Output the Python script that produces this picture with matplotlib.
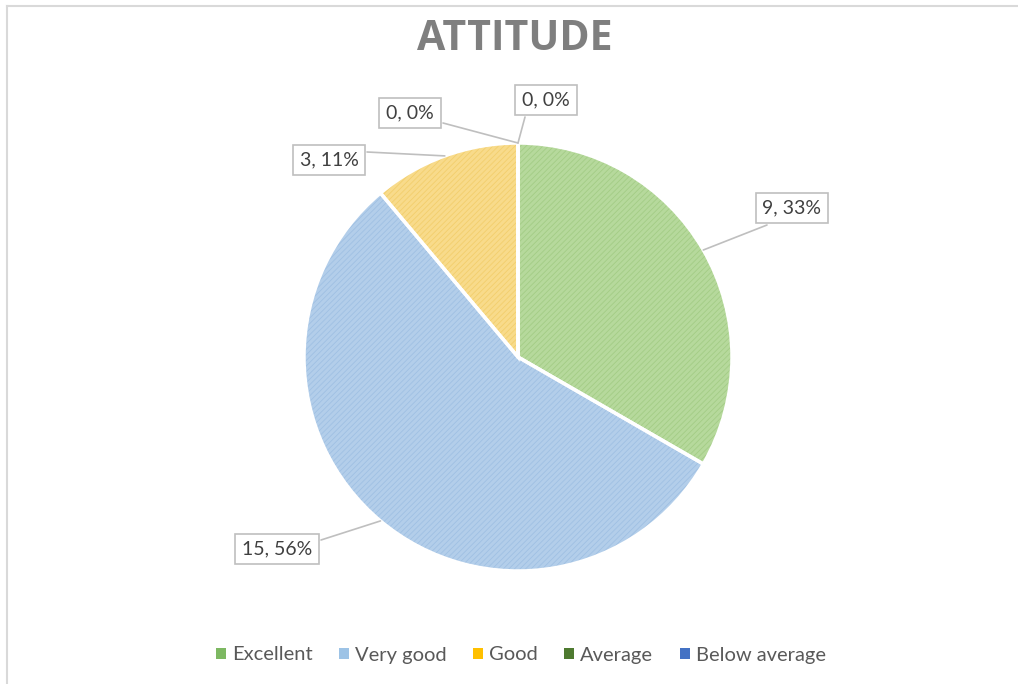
import matplotlib
matplotlib.use('Agg')
import matplotlib.pyplot as plt
import numpy as np
from matplotlib.patches import Patch
from matplotlib.lines import Line2D

# Data
categories = ['Excellent', 'Very good', 'Good', 'Average', 'Below average']
counts = [9, 15, 3, 0, 0]
fill_colors = ['#B6D99C', '#B3CEEA', '#F8DB8B', '#6E9A4E', '#5F86C4']
hatch_colors = ['#A3CC85', '#9FC0E3', '#F2CE6C', '#5A8A3C', '#4A74B6']
legend_colors = ['#7DB862', '#9DC3E6', '#FFC000', '#4E7A30', '#4472C4']

# label box positions (figure pixels, from top-left) and leader start on box
box_pos = [(792, 208), (277, 549), (329, 160), (410, 113), (546, 100)]
box_anchor = [(767, 225), (321, 540), (367, 152), (443, 123), (525, 117)]

W, H = 1018, 684
plt.rcParams['font.family'] = ['Lato', 'DejaVu Sans']
plt.rcParams['hatch.linewidth'] = 0.6

fig = plt.figure(figsize=(W / 100, H / 100), dpi=100)

# frame lines (left and top)
fig.add_artist(Line2D([7 / W, 7 / W], [0, 1 - 6 / H], transform=fig.transFigure,
                      color='#D9D9D9', lw=1.5))
fig.add_artist(Line2D([7 / W, 1], [1 - 6 / H, 1 - 6 / H], transform=fig.transFigure,
                      color='#D9D9D9', lw=1.5))

cx, cy, r = 518, 357, 214
ax = fig.add_axes([(cx - r) / W, (H - cy - r) / H, 2 * r / W, 2 * r / H])

wedges, _ = ax.pie(counts, colors=fill_colors, startangle=90, counterclock=False,
                   radius=1, wedgeprops=dict(linewidth=0))
for w, hc in zip(wedges, hatch_colors):
    w.set_hatch('//////')
    w.set_edgecolor(hc)
    w.set_linewidth(0)

# white separators
outline, _ = ax.pie(counts, colors=['none'] * 5, startangle=90, counterclock=False,
                    radius=1, wedgeprops=dict(linewidth=2.5, edgecolor='white'))

ax.set_xlim(-1, 1)
ax.set_ylim(-1, 1)
ax.set_aspect('equal')
ax.axis('off')

total = sum(counts)
for i, w in enumerate(wedges):
    mid = np.deg2rad((w.theta1 + w.theta2) / 2)
    px, py = np.cos(mid), np.sin(mid)
    pct = round(100 * counts[i] / total)
    bx, by = box_pos[i]
    ax.text(bx / W, 1 - by / H, f'{counts[i]}, {pct}%', transform=fig.transFigure,
            ha='center', va='center', fontsize=14, color='#404040',
            bbox=dict(boxstyle='square,pad=0.35', fc='white', ec='#BFBFBF', lw=1.2))
    ax_, ay_ = box_anchor[i]
    ax.annotate('', xy=(px, py), xycoords='data',
                xytext=(ax_, H - ay_), textcoords='figure pixels',
                arrowprops=dict(arrowstyle='-', color='#BFBFBF', lw=1.2,
                                shrinkA=0, shrinkB=0))

fig.text(515 / W, 1 - 40 / H, 'ATTITUDE', ha='center', va='center',
         fontsize=29.5, fontweight='bold', color='#7F7F7F', family='Open Sans')

handles = [Patch(facecolor=c, edgecolor='none') for c in legend_colors]
fig.legend(handles, categories, loc='center', bbox_to_anchor=(521 / W, 1 - 655 / H),
           ncol=5, frameon=False, fontsize=14.5, labelcolor='#595959',
           handlelength=0.5, handleheight=0.5, handletextpad=0.3, columnspacing=1.3)

fig.savefig('out.png', dpi=100)
